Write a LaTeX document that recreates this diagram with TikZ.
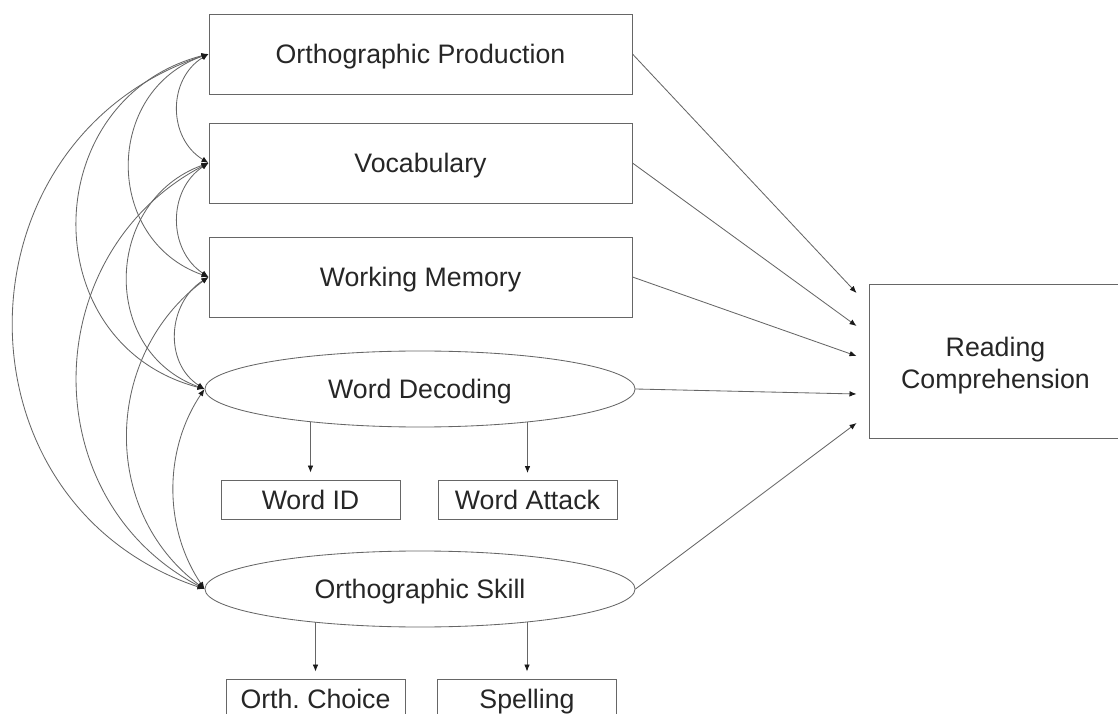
\documentclass[tikz,border=0pt]{standalone}
\usepackage{fontspec}
\setmainfont{Liberation Sans}
\usetikzlibrary{arrows.meta,shapes.geometric,calc}
\definecolor{pathink}{HTML}{666666}
\definecolor{labelink}{HTML}{262626}
\definecolor{tipink}{HTML}{1A1A1A}

\begin{document}
\begin{tikzpicture}[x=0.025cm,y=-0.025cm,font=\fontsize{19}{22.7}\selectfont,
    measure/.style={draw=pathink,line width=.6pt,text=labelink,minimum width=10.575cm,minimum height=2cm,inner sep=0pt,text height=17.5pt,text depth=3.8pt},
    latent/.style={ellipse,draw=pathink,line width=.6pt,text=labelink,minimum width=10.75cm,minimum height=1.9cm,inner sep=0pt,text height=17.5pt,text depth=3.8pt},
    indicator/.style={draw=pathink,line width=.6pt,text=labelink,minimum width=4.475cm,minimum height=.975cm,inner sep=0pt,text height=17.5pt,text depth=3.8pt},
    regpath/.style={draw=pathink,line width=.6pt,-{Latex[length=5pt,width=4pt,tipink]}},
    cov/.style={draw=pathink,line width=.6pt,{Latex[length=5pt,width=4pt,tipink]}-{Latex[length=5pt,width=4pt,tipink]}}]
        \useasboundingbox (0,0) rectangle (1118,714);

        \node[measure] (op) at (420.5,54) {Orthographic Production};
        \node[measure] (voc) at (420.5,163) {Vocabulary};
        \node[measure] (wm) at (420.5,277) {Working Memory};
        \node[latent] (wd) at (420,389) {Word Decoding};
        \node[latent] (os) at (420,589) {Orthographic Skill};

        \node[indicator] (wid) at (310.5,499.5) {Word ID};
        \node[indicator] (wat) at (527.5,500) {Word Attack};
        \node[indicator] (och) at (315.5,698.5) {Orth.\ Choice};
        \node[indicator] (spl) at (527,698.5) {Spelling};

        \node[draw=pathink,line width=.6pt,text=labelink,align=center,inner sep=0pt,text height=43pt,text depth=4pt,
              minimum width=6.325cm,minimum height=3.85cm] (rc) at (995.5,361) {Reading\\Comprehension};

        \coordinate (rc1) at ($(rc.west)+(-12,-68)$);
        \coordinate (rc2) at ($(rc.west)+(-12,-35)$);
        \coordinate (rc3) at ($(rc.west)+(-12,-5)$);
        \coordinate (rc4) at ($(rc.west)+(-12,33)$);
        \coordinate (rc5) at ($(rc.west)+(-12,62)$);

        \draw[regpath] (op.east) -- (rc1);
        \draw[regpath] (voc.east) -- (rc2);
        \draw[regpath] (wm.east) -- (rc3);
        \draw[regpath] (wd.east) -- (rc4);
        \draw[regpath] (os.east) -- (rc5);

        \draw[regpath,shorten >=5pt] (wd.196.5 -| wid.north) -- (wid.north);
        \draw[regpath,shorten >=5pt] (wd.343.5 -| wat.north) -- (wat.north);
        \draw[regpath,shorten >=5pt] (os.197 -| och.north) -- (och.north);
        \draw[regpath,shorten >=5pt] (os.343 -| spl.north) -- (spl.north);

        \draw[cov] (op.west) .. controls +(-41,25) and +(-41,-25) .. (voc.west);
        \draw[cov] (voc.west) .. controls +(-41,27) and +(-41,-27) .. (wm.west);
        \draw[cov] (wm.west) .. controls +(-41,26) and +(-41,-26) .. (wd.west);
        \draw[cov] (wd.west) .. controls +(-41,61) and +(-41,-61) .. (os.west);

        \draw[cov] (op.west) .. controls +(-105,37) and +(-105,-37) .. (wm.west);
        \draw[cov] (voc.west) .. controls +(-105,38) and +(-105,-38) .. (wd.west);
        \draw[cov] (wm.west) .. controls +(-105,78) and +(-105,-78) .. (os.west);

        \draw[cov] (op.west) .. controls +(-172,45) and +(-172,-45) .. (wd.west);
        \draw[cov] (voc.west) .. controls +(-172,90) and +(-172,-90) .. (os.west);

        \draw[cov] (op.west) .. controls +(-257,86) and +(-257,-86) .. (os.west);
      \end{tikzpicture}
\end{document}
